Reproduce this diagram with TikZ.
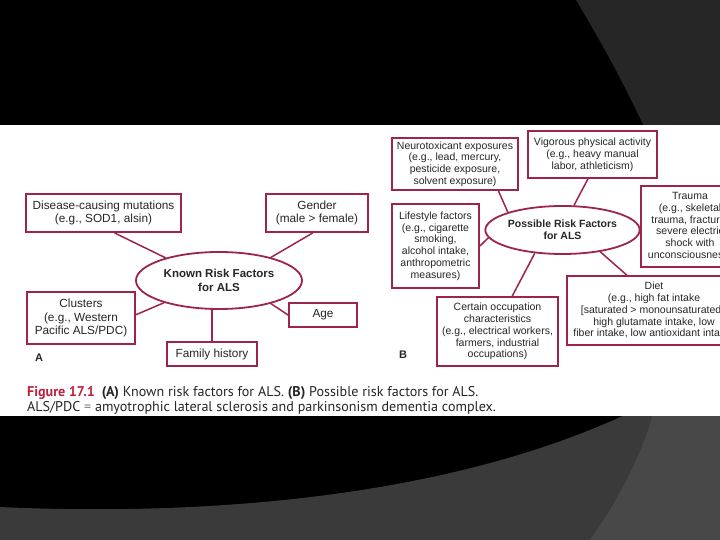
\documentclass[tikz,border=0pt]{standalone}
\usepackage{fontspec}
\setmainfont{Liberation Sans}
\newfontfamily\capfont{PT Sans}
\usetikzlibrary{shapes.geometric,calc}
\definecolor{crim}{RGB}{158,36,74}
\definecolor{txt}{RGB}{38,38,38}
\definecolor{capred}{RGB}{190,32,62}
\definecolor{gA}{RGB}{38,38,38}
\definecolor{gB}{RGB}{58,58,58}
\definecolor{gC}{RGB}{72,72,72}
\begin{document}
\begin{tikzpicture}[x=1pt,y=-1pt,
  boxA/.style={draw=crim,line width=1.8pt,rectangle,inner sep=0pt,align=center,text=txt,font=\fontsize{11.8}{13.3}\selectfont},
  boxB/.style={draw=crim,line width=1.8pt,rectangle,inner sep=0pt,align=center,text=txt,font=\fontsize{10.5}{11.8}\selectfont},
  ellA/.style={draw=crim,line width=1.8pt,ellipse,inner sep=0pt,align=center,text=txt,font=\fontsize{11.5}{13.3}\selectfont\bfseries},
  ellBs/.style={draw=crim,line width=1.8pt,ellipse,inner sep=0pt,align=center,text=txt,font=\fontsize{10.5}{12}\selectfont\bfseries},
  link/.style={draw=crim,line width=1.5pt},
  plabel/.style={inner sep=0pt,text=txt,font=\fontsize{11}{13}\selectfont\bfseries}]
\useasboundingbox (0,0) rectangle (720,540);
\clip (0,0) rectangle (720,540);
% background
\fill[black] (0,0) rectangle (720,540);
\fill[gA] (576,0) .. controls (600,40) and (625,85) .. (648,135) -- (720,135) -- (720,0) -- cycle;
\fill[gB] (0,507) .. controls (150,514) and (420,510) .. (627,414) -- (720,414) -- (720,540) -- (0,540) -- cycle;
\fill[gC] (653,414) .. controls (640,460) and (615,505) .. (590,540) -- (720,540) -- (720,414) -- cycle;
\fill[white] (0,125) rectangle (720,416);

% Panel A
\node[ellA,minimum width=166pt,minimum height=57pt] (kA) at (219,280.5) {Known Risk Factors\\for ALS};
\node[boxA,minimum width=155pt,minimum height=38pt] (dis) at (103.5,213) {Disease-causing mutations\\(e.g., SOD1, alsin)};
\node[boxA,minimum width=102pt,minimum height=38pt] (gen) at (317,213) {Gender\\(male > female)};
\node[boxA,minimum width=108pt,minimum height=52pt] (clu) at (81,318) {Clusters\\(e.g., Western\\Pacific ALS/PDC)};
\node[boxA,minimum width=68pt,minimum height=24pt] (age) at (323,315) {Age};
\node[boxA,minimum width=90pt,minimum height=24pt] (fam) at (212,354) {Family history};
\node[plabel] (labA) at (39,358) {A};

\draw[link] ($(dis.south west)!0.57!(dis.south east)$) -- (kA.157.6);
\draw[link] ($(gen.south west)!0.46!(gen.south east)$) -- (kA.24.6);
\draw[link] ($(clu.north east)!0.44!(clu.south east)$) -- (kA.202.4);
\draw[link] (age.west) -- (kA.336.1);
\draw[link] (fam.north) -- (fam.north |- kA.south);

% Panel B
\node[ellBs,minimum width=137pt,minimum height=48pt] (kB) at (562.5,230) {Possible Risk Factors\\for ALS};
\node[boxB,minimum width=126pt,minimum height=52pt] (neu) at (455,164) {Neurotoxicant exposures\\(e.g., lead, mercury,\\pesticide exposure,\\solvent exposure)};
\node[boxB,minimum width=129pt,minimum height=47pt] (vig) at (592.5,154.5) {Vigorous physical activity\\(e.g., heavy manual\\labor, athleticism)};
\node[boxB,minimum width=98pt,minimum height=81pt] (tra) at (690,226.5) {Trauma\\(e.g., skeletal\\trauma, fracture,\\severe electric\\shock with\\unconsciousness)};
\node[boxB,minimum width=87pt,minimum height=84pt] (lif) at (435.5,246) {Lifestyle factors\\(e.g., cigarette\\smoking,\\alcohol intake,\\anthropometric\\measures)};
\node[boxB,minimum width=174pt,minimum height=69pt] (die) at (654,310.5) {Diet\\(e.g., high fat intake\\{[}saturated > monounsaturated{]},\\high glutamate intake, low\\fiber intake, low antioxidant intake)};
\node[boxB,minimum width=121pt,minimum height=69pt] (occ) at (497.5,331.5) {Certain occupation\\characteristics\\(e.g., electrical workers,\\farmers, industrial\\occupations)};
\node[plabel] (labB) at (403,355) {B};

\draw[link] ($(neu.south west)!0.84!(neu.south east)$) -- (kB.162);
\draw[link] ($(vig.south west)!0.465!(vig.south east)$) -- (kB.65.9);
\draw[link] (kB.east) -- (kB.east -| tra.west);
\draw[link] (lif.east) -- (kB.186.8);
\draw[link] ($(die.north west)!0.345!(die.north east)$) -- (kB.330.9);
\draw[link] ($(occ.north west)!0.62!(occ.north east)$) -- (kB.220.2);

% Caption
\node[anchor=base west,inner sep=0pt,text=txt,font=\capfont\fontsize{14.1}{15}\selectfont] (cap1) at (27,396)
  {{\color{capred}\bfseries Figure 17.1}\hspace{0.5em}{\bfseries (A)} Known risk factors for ALS. {\bfseries (B)} Possible risk factors for ALS.};
\node[anchor=base west,inner sep=0pt,text=txt,font=\capfont\fontsize{14.1}{15}\selectfont] (cap2) at (27,411)
  {ALS/PDC {\color{gray}=} amyotrophic lateral sclerosis and parkinsonism dementia complex.};
\end{tikzpicture}
\end{document}
